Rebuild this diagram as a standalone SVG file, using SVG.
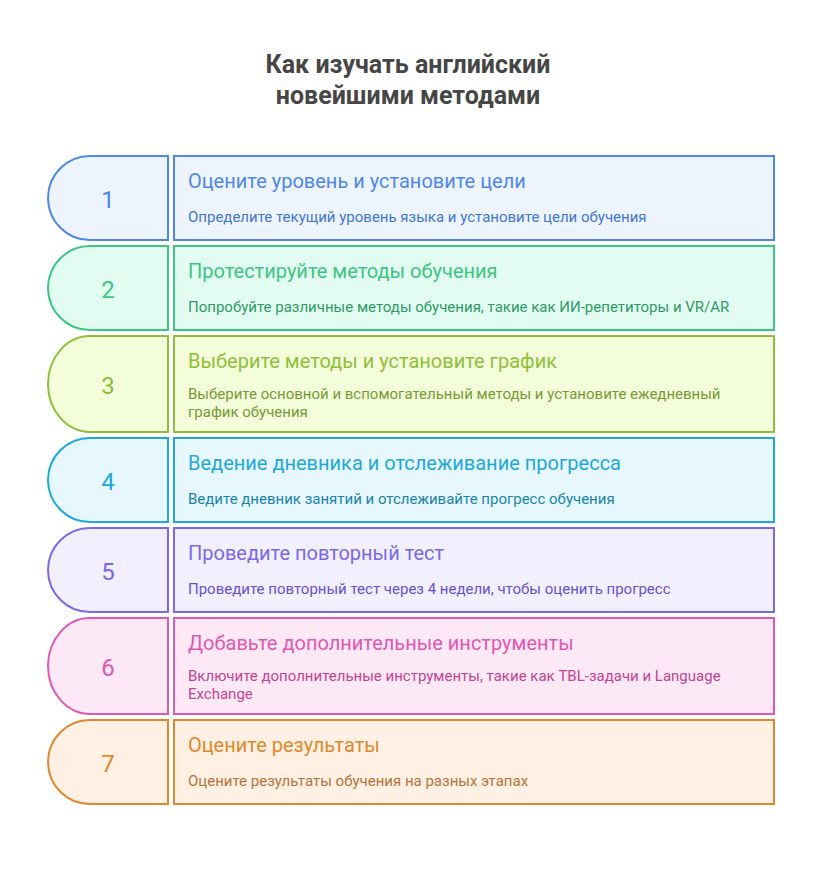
<svg xmlns="http://www.w3.org/2000/svg" width="822" height="876" viewBox="0 0 822 876">
<style>
text{font-family:Roboto,"Liberation Sans",sans-serif}
.title{font-size:25px;font-weight:bold;fill:#464646;text-anchor:middle}
.num{font-size:24px;text-anchor:middle}
.h{font-size:20px}
.s{font-size:15px}
.b{stroke-width:2}
</style>
<rect width="822" height="876" fill="#ffffff"/>
<g id="title">
<text class="title" x="408" y="73">Как изучать английский</text>
<text class="title" x="408" y="104">новейшими методами</text>
</g>
<g id="connectors"/>
<g id="step1">
<path class="b" d="M168,156 V240 H90 A42,42 0 0 1 48,198 A42,42 0 0 1 90,156 Z" fill="#EEF4FE" stroke="#4E88E6"/>
<rect class="b" x="174" y="156" width="600" height="84" fill="#EEF4FE" stroke="#4E88E6"/>
<text class="num" x="108" y="208" fill="#4E88E6">1</text>
<text class="h" x="188" y="188" fill="#4E88E6">Оцените уровень и установите цели</text>
<text class="s" x="188" y="222" fill="#3F78D0">Определите текущий уровень языка и установите цели обучения</text>
</g>
<g id="step2">
<path class="b" d="M168,246 V330 H90 A42,42 0 0 1 48,288 A42,42 0 0 1 90,246 Z" fill="#E3FCF1" stroke="#3CC585"/>
<rect class="b" x="174" y="246" width="600" height="84" fill="#E3FCF1" stroke="#3CC585"/>
<text class="num" x="108" y="298" fill="#3CC585">2</text>
<text class="h" x="188" y="278" fill="#3CC585">Протестируйте методы обучения</text>
<text class="s" x="188" y="312" fill="#2F9A68">Попробуйте различные методы обучения, такие как ИИ-репетиторы и VR/AR</text>
</g>
<g id="step3">
<path class="b" d="M168,336 V432 H90 A42,48 0 0 1 48,384 A42,48 0 0 1 90,336 Z" fill="#F3FDDA" stroke="#8FBF3A"/>
<rect class="b" x="174" y="336" width="600" height="96" fill="#F3FDDA" stroke="#8FBF3A"/>
<text class="num" x="108" y="394" fill="#8FBF3A">3</text>
<text class="h" x="188" y="368" fill="#8FBF3A">Выберите методы и установите график</text>
<text class="s" x="188" y="399" fill="#789A36">Выберите основной и вспомогательный методы и установите ежедневный</text>
<text class="s" x="188" y="417" fill="#789A36">график обучения</text>
</g>
<g id="step4">
<path class="b" d="M168,438 V522 H90 A42,42 0 0 1 48,480 A42,42 0 0 1 90,438 Z" fill="#E6F7FD" stroke="#1FA8D8"/>
<rect class="b" x="174" y="438" width="600" height="84" fill="#E6F7FD" stroke="#1FA8D8"/>
<text class="num" x="108" y="490" fill="#1FA8D8">4</text>
<text class="h" x="188" y="470" fill="#1FA8D8">Ведение дневника и отслеживание прогресса</text>
<text class="s" x="188" y="504" fill="#1A84AB">Ведите дневник занятий и отслеживайте прогресс обучения</text>
</g>
<g id="step5">
<path class="b" d="M168,528 V612 H90 A42,42 0 0 1 48,570 A42,42 0 0 1 90,528 Z" fill="#F2F0FE" stroke="#7B68E8"/>
<rect class="b" x="174" y="528" width="600" height="84" fill="#F2F0FE" stroke="#7B68E8"/>
<text class="num" x="108" y="580" fill="#7B68E8">5</text>
<text class="h" x="188" y="560" fill="#7B68E8">Проведите повторный тест</text>
<text class="s" x="188" y="594" fill="#6852D0">Проведите повторный тест через 4 недели, чтобы оценить прогресс</text>
</g>
<g id="step6">
<path class="b" d="M168,618 V714 H90 A42,48 0 0 1 48,666 A42,48 0 0 1 90,618 Z" fill="#FDE9F6" stroke="#E058B0"/>
<rect class="b" x="174" y="618" width="600" height="96" fill="#FDE9F6" stroke="#E058B0"/>
<text class="num" x="108" y="676" fill="#E058B0">6</text>
<text class="h" x="188" y="650" fill="#E058B0">Добавьте дополнительные инструменты</text>
<text class="s" x="188" y="681" fill="#C2458F">Включите дополнительные инструменты, такие как TBL-задачи и Language</text>
<text class="s" x="188" y="699" fill="#C2458F">Exchange</text>
</g>
<g id="step7">
<path class="b" d="M168,720 V804 H90 A42,42 0 0 1 48,762 A42,42 0 0 1 90,720 Z" fill="#FEF0E3" stroke="#E0882F"/>
<rect class="b" x="174" y="720" width="600" height="84" fill="#FEF0E3" stroke="#E0882F"/>
<text class="num" x="108" y="772" fill="#E0882F">7</text>
<text class="h" x="188" y="752" fill="#E0882F">Оцените результаты</text>
<text class="s" x="188" y="786" fill="#B8733A">Оцените результаты обучения на разных этапах</text>
</g>
</svg>
